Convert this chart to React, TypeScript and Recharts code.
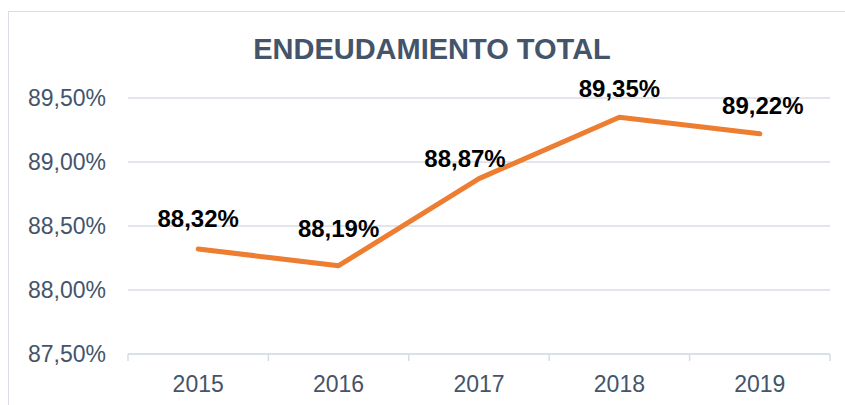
import React from "react";
import { LineChart, Line, XAxis, YAxis, CartesianGrid, LabelList } from "recharts";

const years = ["2015", "2016", "2017", "2018", "2019"];
const endeudamiento = [88.32, 88.19, 88.87, 89.35, 89.22];
const yTicks = [87.5, 88.0, 88.5, 89.0, 89.5];
const labelDx = [0, 0, -14, 0, 3];
const labelDy = [-22, -29, -12, -20, -20];

const data = years.map((y, i) => ({ year: y, value: endeudamiento[i] }));

const FONT = "'Liberation Sans', Arial, sans-serif";
const GRID = "#D9DEE6";
const TEXT = "#44546A";
const X_TICK_SIZE = 6;
const X_TICK_MARGIN = 16;

const fmt = (v: number) => `${v.toFixed(2).replace(".", ",")}%`;

const DataLabel = (props: any) => {
  const { x, y, index, value } = props;
  return (
    <text
      x={x + labelDx[index]}
      y={y + labelDy[index]}
      textAnchor="middle"
      fontFamily={FONT}
      fontWeight="bold"
      fontSize={24}
      fill="#000000"
    >
      {fmt(value)}
    </text>
  );
};

const YearTick = (props: any) => {
  const { x, y, payload, index, visibleTicksCount, width } = props;
  const half =
    payload && typeof payload.offset === "number" && payload.offset > 0
      ? payload.offset
      : width / visibleTicksCount / 2;
  const axisY = y - X_TICK_SIZE - X_TICK_MARGIN;
  const isLast = index === visibleTicksCount - 1;
  return (
    <g>
      <line
        x1={x - half}
        x2={x - half}
        y1={axisY}
        y2={axisY + 7}
        stroke={GRID}
        strokeWidth={1.5}
      />
      {isLast && (
        <line
          x1={x + half}
          x2={x + half}
          y1={axisY}
          y2={axisY + 7}
          stroke={GRID}
          strokeWidth={1.5}
        />
      )}
      <text
        x={x}
        y={y}
        dy="0.71em"
        textAnchor="middle"
        fontFamily={FONT}
        fontSize={23}
        fill={TEXT}
      >
        {payload.value}
      </text>
    </g>
  );
};

export default function App() {
  return (
    <div
      style={{
        position: "absolute",
        left: 0,
        top: 0,
        width: 845,
        height: 405,
        overflow: "hidden",
        background: "#FFFFFF",
      }}
    >
      <div
        style={{
          position: "absolute",
          left: 8,
          top: 11,
          width: 880,
          height: 440,
          border: "1px solid #D9DEE6",
          boxSizing: "border-box",
        }}
      />
      <svg
        width={845}
        height={405}
        style={{ position: "absolute", left: 0, top: 0 }}
      >
        <text
          x={432}
          y={59}
          textAnchor="middle"
          fontFamily={FONT}
          fontWeight="bold"
          fontSize={29}
          fill={TEXT}
        >
          ENDEUDAMIENTO TOTAL
        </text>
      </svg>
      <div style={{ position: "absolute", left: 0, top: 0 }}>
        <LineChart
          width={845}
          height={405}
          data={data}
          margin={{ top: 98, right: 15, bottom: 0, left: 0 }}
        >
          <CartesianGrid vertical={false} stroke={GRID} strokeWidth={1.5} />
          <XAxis
            dataKey="year"
            scale="band"
            height={51}
            axisLine={{ stroke: GRID, strokeWidth: 1.5 }}
            tickLine={false}
            tickSize={X_TICK_SIZE}
            tickMargin={X_TICK_MARGIN}
            tick={<YearTick />}
            interval={0}
          />
          <YAxis
            width={128}
            domain={[87.5, 89.5]}
            ticks={yTicks}
            axisLine={false}
            tickLine={false}
            tickMargin={16}
            tickFormatter={fmt}
            tick={{ fill: TEXT, fontSize: 23, fontFamily: FONT }}
            allowDataOverflow
          />
          <Line
            type="linear"
            dataKey="value"
            stroke="#ED7D31"
            strokeWidth={5}
            strokeLinecap="round"
            strokeLinejoin="round"
            dot={false}
            activeDot={false}
            isAnimationActive={false}
          >
            <LabelList dataKey="value" content={<DataLabel />} />
          </Line>
        </LineChart>
      </div>
    </div>
  );
}
